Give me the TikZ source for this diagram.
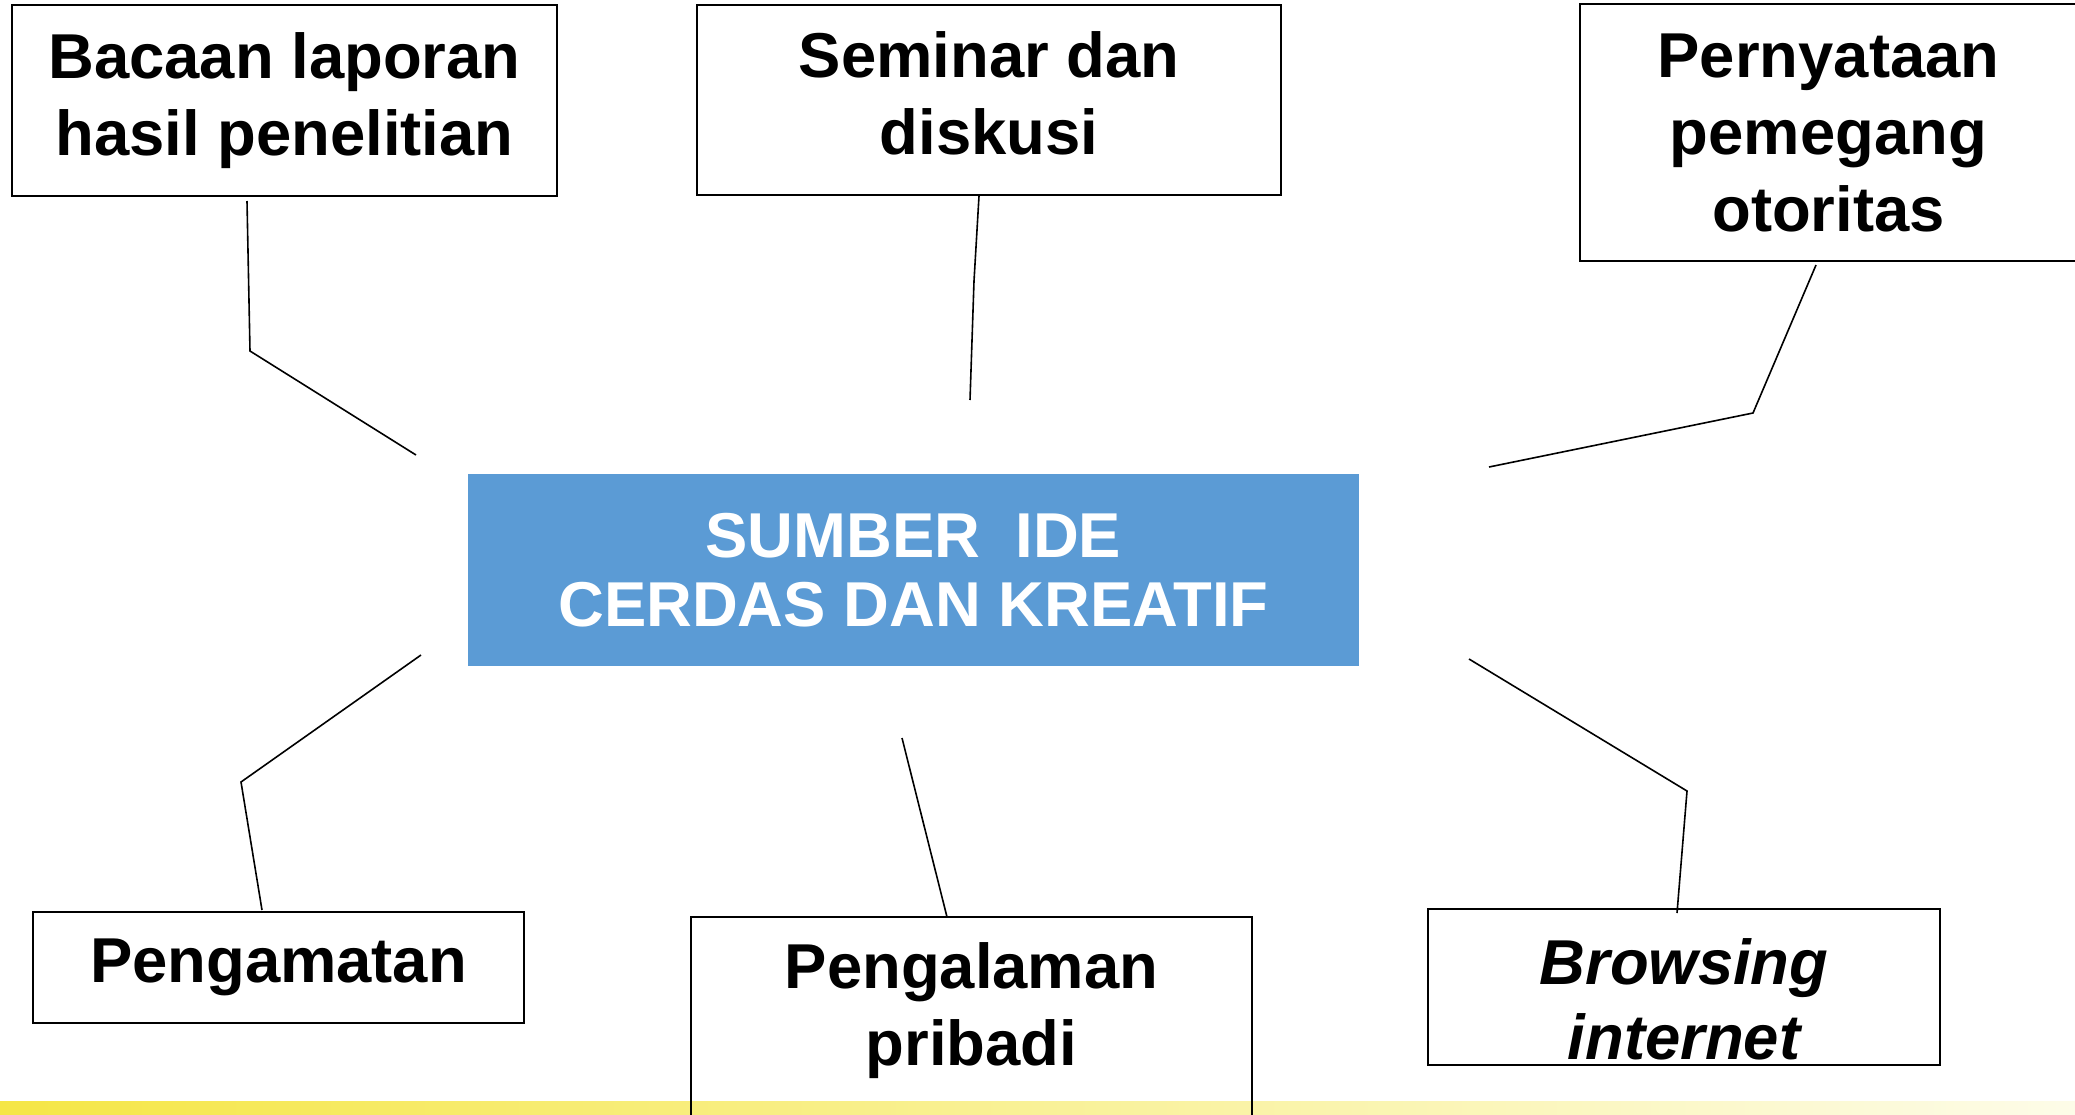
\documentclass[tikz,border=0pt]{standalone}
\usepackage{fontspec}
\setmainfont{Liberation Sans}
\definecolor{hubblue}{HTML}{5B9BD5}
\definecolor{stripeL}{RGB}{245,230,70}
\definecolor{stripeM}{RGB}{248,240,150}
\definecolor{stripeR}{RGB}{253,252,232}
\begin{document}
\begin{tikzpicture}[x=0.5pt,y=-0.5pt,
  box/.style={draw=black, line width=1.1pt, inner sep=0pt, align=center,
    font=\fontsize{31.7}{38.5}\selectfont\bfseries},
  lbl/.style={inner sep=0pt, align=center, font=\fontsize{31.7}{38.5}\selectfont\bfseries},
  hub/.style={fill=hubblue, draw=none, text=white, inner sep=0pt, align=center,
    font=\fontsize{31.7}{34.5}\selectfont\bfseries},
  conn/.style={draw=black, line width=0.8pt}]
\useasboundingbox (0,0) rectangle (2075,1114);
% bottom stripe
\shade[left color=stripeL, middle color=stripeM, right color=stripeR] (0,1101) rectangle (2075,1114);
% hub
\node[hub, minimum width=445.5pt, minimum height=96pt] (hub) at (913.5,570) {SUMBER~~IDE\\CERDAS DAN KREATIF};
% boxes
\node[box, minimum width=272.5pt, minimum height=95.5pt] (bac) at (284.5,100.5) {Bacaan laporan\\hasil penelitian};
\node[box, minimum width=292pt, minimum height=95pt] (sem) at (989,100) {};
\node[lbl] (semt) at (989,93.5) {Seminar dan\\diskusi};
\node[box, minimum width=248.5pt, minimum height=128.5pt] (per) at (1828.5,132.5) {Pernyataan\\pemegang\\otoritas};
\node[box, minimum width=245.5pt, minimum height=55.5pt] (pgm) at (278.5,967.5) {Pengamatan};
\node[box, minimum width=280.5pt, minimum height=131.5pt] (pgl) at (971.5,1048.5) {};
\node[lbl] (pglt) at (971.5,1011) {Pengalaman\\pribadi};
\node[box, minimum width=256pt, minimum height=78pt] (brw) at (1684,987) {};
\node[lbl, font=\fontsize{31.7}{37.5}\selectfont\bfseries\itshape] (brwt) at (1684,999) {Browsing\\internet};
% connector points
\coordinate (a1) at (247,201); \coordinate (a2) at (250,351); \coordinate (a3) at (416,455);
\coordinate (b1) at (979,196); \coordinate (b2) at (974,281); \coordinate (b3) at (970,400);
\coordinate (c1) at (1816,265); \coordinate (c2) at (1753,413); \coordinate (c3) at (1489,467);
\coordinate (d1) at (421,655); \coordinate (d2) at (241,782); \coordinate (d3) at (262,910);
\coordinate (e1) at (902,738); \coordinate (e2) at (947,917);
\coordinate (f1) at (1469,659); \coordinate (f2) at (1687,791); \coordinate (f3) at (1677,913);
\draw[conn] (a1) -- (a2) -- (a3);
\draw[conn] (b1) -- (b2) -- (b3);
\draw[conn] (c1) -- (c2) -- (c3);
\draw[conn] (d1) -- (d2) -- (d3);
\draw[conn] (e1) -- (e2);
\draw[conn] (f1) -- (f2) -- (f3);
\end{tikzpicture}
\end{document}
